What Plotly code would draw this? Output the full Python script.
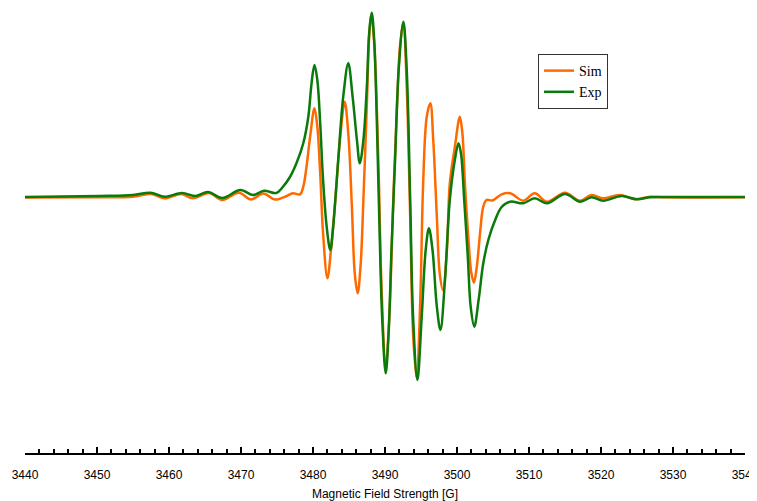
import plotly.graph_objects as go

# Simulated spectrum (field in G, intensity in arbitrary units)
field_sim = [3440.0, 3450.4, 3455.0, 3457.5, 3459.4, 3461.7, 3463.3, 3465.6, 3467.4, 3469.7,
             3471.4, 3473.1, 3474.7, 3476.35, 3477.2, 3478.2, 3478.65, 3479.1, 3479.6, 3480.2,
             3480.6, 3481.0, 3481.4, 3482.0, 3482.5, 3483.1, 3483.75, 3484.4, 3484.9, 3485.4,
             3485.8, 3486.2, 3486.6, 3487.0, 3487.5, 3487.8, 3488.1, 3488.5, 3489.1, 3489.5,
             3490.1, 3490.6, 3491.15, 3491.7, 3492.1, 3492.55, 3493.0, 3493.5, 3493.9, 3494.4,
             3494.9, 3495.3, 3495.8, 3496.3, 3496.7, 3497.2, 3497.6, 3498.05, 3498.6, 3499.0,
             3499.7, 3500.4, 3500.75, 3501.1, 3501.6, 3502.0, 3502.35, 3502.75, 3503.2, 3503.65,
             3504.1, 3504.9, 3506.2, 3507.4, 3509.2, 3510.8, 3512.5, 3515.0, 3517.1, 3518.7,
             3520.3, 3522.6, 3524.7, 3526.8, 3528.9, 3540.0]
sim = [-0.5, -0.3, 0.3, 3, -1.3, 3, -1.3, 4, -3, 4.3,
       -2.5, 3.5, -2.5, 1, 3.7, 2.7, 10.3, 30.3, 60.3, 88.7,
       70.3, 23.7, -36.3, -81.3, -53, -3, 57, 95.3, 63.7, -9.7,
       -76.3, -96.3, -69.7, -3, 97, 160.3, 182, 153.7, 30.3, -86.3,
       -169.7, -119.7, -3, 97, 152, 173.7, 113.7, -19.7, -136.3, -181.3,
       -103, 13.7, 80.3, 93.7, 57, -19.7, -76.3, -93, -53, 13.7,
       50, 80.3, 63.7, 13.7, -43, -76.3, -85.7, -69.7, -36.3, -9.7,
       -3, -3.5, 2.7, 3.7, -3.7, 3.7, -4.7, 4.3, -3.7, 2,
       -1.3, 2, -2.3, 0.3, -0.3, -0.3]

# Experimental spectrum
field_exp = [3440.0, 3450.4, 3455.0, 3457.4, 3459.4, 3461.8, 3463.75, 3465.4, 3467.4, 3469.9,
             3471.7, 3473.2, 3474.9, 3475.8, 3476.8, 3477.7, 3478.65, 3479.35, 3479.8, 3480.2,
             3480.6, 3481.0, 3481.4, 3481.9, 3482.4, 3482.8, 3483.5, 3484.2, 3484.9, 3485.5,
             3486.1, 3486.5, 3487.0, 3487.5, 3487.8, 3488.15, 3488.5, 3488.85, 3489.2, 3489.6,
             3490.1, 3490.5, 3490.9, 3491.4, 3491.9, 3492.55, 3493.0, 3493.5, 3493.9, 3494.5,
             3495.1, 3495.65, 3496.1, 3496.6, 3497.2, 3497.7, 3498.3, 3499.0, 3499.7, 3500.2,
             3500.55, 3501.0, 3501.5, 3501.9, 3502.4, 3503.0, 3503.65, 3504.35, 3505.3, 3506.2,
             3507.4, 3509.2, 3510.8, 3512.5, 3515.0, 3517.1, 3518.7, 3520.3, 3522.9, 3525.0,
             3526.8, 3528.9, 3540.0]
exp = [0, 1, 2, 4.3, 0.3, 4, 1, 5, -1, 7,
       2, 6.3, 4, 10, 20, 33.7, 53.7, 80.3, 113.7, 132,
       117, 73.7, 17, -29.7, -53, -29.7, 37, 100.3, 133.7, 100.3,
       57, 33.7, 57, 113.7, 163.7, 184.3, 157, 80.3, -19.7, -119.7,
       -176.3, -136.3, -53, 37, 127, 175.3, 130.3, -3, -119.7, -183,
       -119.7, -53, -31.3, -53, -109.7, -133, -86.3, -3, 37, 53.7,
       43.7, -3, -59.7, -109.7, -129.7, -103, -66.3, -43, -23, -10,
       -4.7, -6.3, -1.3, -6.3, 3, -4.7, -0.3, -3.7, 1, -2.3,
       -0.3, 0, 0]

x_ticks = [3440, 3450, 3460, 3470, 3480, 3490, 3500, 3510, 3520, 3530, 3540]

fig = go.Figure()
fig.add_trace(go.Scatter(x=field_sim, y=sim, name="Sim", mode="lines",
                         line=dict(color="#FF6A00", width=2.5, shape="spline", smoothing=1)))
fig.add_trace(go.Scatter(x=field_exp, y=exp, name="Exp", mode="lines",
                         line=dict(color="#0A7A0A", width=2.5, shape="spline", smoothing=1)))

fig.update_layout(
    width=749, height=493,
    margin=dict(l=17, r=12, t=0, b=48, autoexpand=False),
    paper_bgcolor="white", plot_bgcolor="white",
    showlegend=True,
    legend=dict(x=0.7125, y=0.8966, xanchor="left", yanchor="top",
                bgcolor="white", bordercolor="#333333", borderwidth=1,
                font=dict(family="Liberation Serif", size=14, color="black"),
                itemwidth=30, tracegroupgap=0),
    xaxis=dict(range=[3440, 3540], tickmode="array", tickvals=x_ticks,
               ticktext=[str(t) for t in x_ticks],
               ticks="inside", ticklen=6, tickwidth=2, tickcolor="black",
               minor=dict(dtick=2, ticks="inside", ticklen=4, tickwidth=2, tickcolor="black"),
               showline=True, linewidth=2, linecolor="black",
               showgrid=False, zeroline=False, automargin=False,
               ticklabeloverflow="allow", ticklabelstandoff=10,
               tickfont=dict(family="Liberation Sans", size=12, color="black"),
               title=dict(text="Magnetic Field Strength [G]",
                          font=dict(family="Liberation Sans", size=12, color="black"),
                          standoff=8)),
    yaxis=dict(range=[-256, 189], visible=False, showgrid=False, zeroline=False),
)

fig.write_html("out.html")
